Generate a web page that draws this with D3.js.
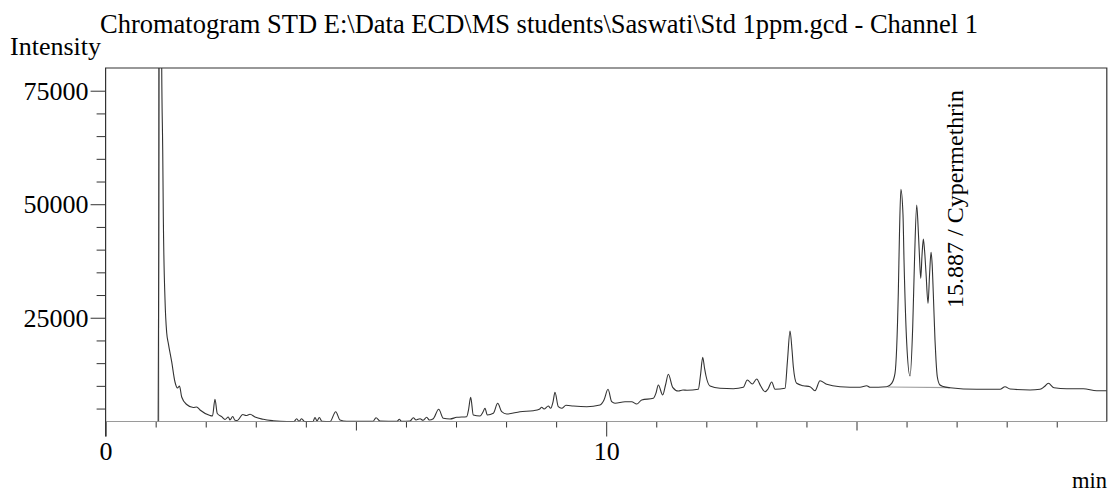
<!DOCTYPE html>
<html>
<head>
<meta charset="utf-8">
<script src="https://cdn.jsdelivr.net/npm/d3@7"></script>
<style>
  html, body { margin: 0; padding: 0; background: #fff; }
  svg { display: block; }
  text { font-family: "Liberation Serif", "Times New Roman", serif; fill: #000; }
</style>
</head>
<body>
<svg id="chart" width="1110" height="492"></svg>
<script>
// Detector trace: retention time (min) and intensity
const traceTime = [
  1.050, 1.062, 1.080, 1.105, 1.121, 1.141, 1.153, 1.187, 1.221, 1.253,
  1.320, 1.386, 1.436, 1.476, 1.520, 1.620, 1.752, 1.820, 1.886, 2.086,
  2.135, 2.185, 2.231, 2.319, 2.385, 2.451, 2.485, 2.539, 2.585, 2.631,
  2.739, 2.805, 2.885, 2.984, 3.150, 3.350, 3.618, 3.764, 3.817, 3.863,
  3.917, 3.973, 4.143, 4.183, 4.223, 4.269, 4.323, 4.483, 4.597, 4.682,
  4.816, 5.342, 5.402, 5.481, 5.821, 5.867, 5.911, 6.081, 6.147, 6.201,
  6.281, 6.340, 6.414, 6.466, 6.546, 6.654, 6.746, 6.880, 7.014, 7.213,
  7.249, 7.293, 7.345, 7.479, 7.539, 7.579, 7.625, 7.745, 7.833, 7.912,
  8.012, 8.278, 8.544, 8.664, 8.712, 8.758, 8.843, 8.891, 8.937, 8.977,
  9.043, 9.111, 9.197, 9.343, 9.611, 9.876, 9.956, 10.036, 10.110, 10.176,
  10.376, 10.509, 10.609, 10.709, 10.941, 10.995, 11.041, 11.129, 11.185, 11.241,
  11.328, 11.440, 11.534, 11.614, 11.840, 11.884, 11.928, 11.964, 11.994, 12.074,
  12.273, 12.539, 12.739, 12.819, 12.919, 13.006, 13.086, 13.172, 13.232, 13.306,
  13.372, 13.572, 13.622, 13.672, 13.712, 13.738, 13.805, 13.937, 14.071, 14.171,
  14.271, 14.405, 14.670, 15.070, 15.204, 15.270, 15.603, 15.703, 15.769, 15.835,
  15.860, 15.887, 15.929, 15.949, 16.003, 16.069, 16.123, 16.159, 16.203, 16.229,
  16.255, 16.283, 16.309, 16.335, 16.359, 16.389, 16.429, 16.459, 16.489, 16.512,
  16.534, 16.568, 16.588, 16.614, 16.668, 16.734, 16.868, 17.401, 17.867, 17.967,
  18.067, 18.466, 18.666, 18.756, 18.832, 18.946, 19.199, 19.531, 19.799, 20.000
];
const traceIntensity = [
  2150, 40000, 160000, 120000, 80000, 61950, 47250, 28900, 21650, 19370,
  15320, 10850, 9530, 9970, 7540, 5890, 5230, 5340, 4680, 3470,
  3360, 7040, 3910, 3210, 2590, 3140, 2480, 3250, 2410, 2370,
  3690, 3470, 3740, 3140, 2630, 2330, 2150, 2150, 2740, 2190,
  2740, 2150, 2150, 3030, 2260, 3030, 2190, 2150, 4310, 2480,
  2190, 2190, 2990, 2260, 2190, 2630, 2190, 2260, 2990, 2480,
  2770, 2410, 3070, 2480, 2770, 4840, 2850, 2700, 3070, 3210,
  4680, 7480, 3580, 3360, 4240, 5060, 3580, 3960, 6160, 4310,
  3800, 4310, 4530, 4840, 5280, 4900, 5560, 5060, 6440, 8580,
  5410, 5060, 5720, 5560, 5410, 5780, 6880, 9240, 6510, 6160,
  6510, 6510, 6000, 6880, 7260, 8430, 10190, 7990, 10190, 12540,
  9680, 8870, 9090, 9020, 9240, 12390, 16290, 13930, 12170, 9970,
  9460, 9370, 9680, 11290, 10410, 11510, 9970, 8710, 9310, 10850,
  9240, 9460, 15690, 22080, 17890, 14220, 10560, 10030, 9810, 8930,
  11130, 10340, 9810, 9680, 10030, 9680, 9810, 10560, 12760, 30450,
  44320, 53280, 47620, 37710, 19440, 12170, 23030, 37710, 49820, 45420,
  39190, 33680, 38810, 42340, 39910, 34780, 28180, 34410, 39410, 36610,
  30380, 20100, 15690, 12010, 10190, 9860, 9590, 9240, 9240, 9810,
  9310, 9090, 9240, 9860, 10560, 9590, 9370, 9370, 8930, 8930
];

// Solvent-front marker and integration baseline of the labelled peak group
const markerTime = [1.06];
const baselineTime = [15.62, 16.87];
const baselineIntensity = [9750, 9590];

// Peak annotation
const peakLabelTime = 15.887;
const peakLabelName = "Cypermethrin";

// Axis ticks
const yMajorTicks = [25000, 50000, 75000];
const yMinorTicks = [5000, 10000, 15000, 20000, 30000, 35000, 40000, 45000, 55000, 60000, 65000, 70000];
const xTicks = d3.range(0, 20);
const xLabelTicks = [0, 10];
const xMidTicks = [5, 15];

const titleText = "Chromatogram STD E:\\Data ECD\\MS students\\Saswati\\Std 1ppm.gcd - Channel 1";

const svg = d3.select("#chart");
const plot = { left: 105.6, right: 1106.8, top: 68, bottom: 421.5 };

const x = d3.scaleLinear().domain([0, 20]).range([plot.left, plot.right]);
const y = d3.scaleLinear().domain([2150, 80000]).range([plot.bottom, plot.top]);

svg.append("defs").append("clipPath").attr("id", "plotClip")
  .append("rect")
  .attr("x", plot.left).attr("y", plot.top)
  .attr("width", plot.right - plot.left).attr("height", plot.bottom - plot.top);

// Title and axis captions
svg.append("text").attr("x", 100).attr("y", 33)
  .style("font-size", "26.5px").text(titleText);
svg.append("text").attr("x", 10).attr("y", 55)
  .style("font-size", "26px").text("Intensity");
svg.append("text").attr("x", 1107).attr("y", 488).attr("text-anchor", "end")
  .style("font-size", "22.5px").text("min");

// Y axis: minor then major ticks
const yMinor = svg.append("g").attr("transform", `translate(${plot.left},0)`)
  .call(d3.axisLeft(y).tickValues(yMinorTicks).tickSize(9).tickFormat(""));
const yMajor = svg.append("g").attr("transform", `translate(${plot.left},0)`)
  .call(d3.axisLeft(y).tickValues(yMajorTicks).tickSize(15).tickPadding(2).tickFormat(d3.format("d")));
[yMinor, yMajor].forEach(g => {
  g.select(".domain").remove();
  g.selectAll("line").attr("stroke", "#333");
});
yMajor.selectAll("text").style("font-size", "26px")
  .style("font-family", "'Liberation Serif', 'Times New Roman', serif");

// X axis: minute ticks, longer ticks at 5 and 15, labelled ticks at 0 and 10
const xMinor = svg.append("g").attr("transform", `translate(0,${plot.bottom})`)
  .call(d3.axisBottom(x).tickValues(xTicks.filter(t => !xLabelTicks.includes(t) && !xMidTicks.includes(t)))
    .tickSize(6).tickFormat(""));
const xMid = svg.append("g").attr("transform", `translate(0,${plot.bottom})`)
  .call(d3.axisBottom(x).tickValues(xMidTicks).tickSize(9).tickFormat(""));
const xMajor = svg.append("g").attr("transform", `translate(0,${plot.bottom})`)
  .call(d3.axisBottom(x).tickValues(xLabelTicks).tickSize(15).tickPadding(5).tickFormat(d3.format("d")));
[xMinor, xMid, xMajor].forEach(g => {
  g.select(".domain").remove();
  g.selectAll("line").attr("stroke", "#333");
});
xMajor.selectAll("text").style("font-size", "26px")
  .style("font-family", "'Liberation Serif', 'Times New Roman', serif");

// Baseline (time axis) in grey
svg.append("line")
  .attr("x1", plot.left).attr("x2", plot.right)
  .attr("y1", y(2150)).attr("y2", y(2150))
  .attr("stroke", "#9a9a9a").attr("stroke-width", 1.2);

// Solvent front marker
svg.append("g").selectAll("line").data(markerTime).join("line")
  .attr("x1", d => x(d)).attr("x2", d => x(d))
  .attr("y1", plot.top).attr("y2", plot.bottom)
  .attr("stroke", "#a0a0a0").attr("stroke-width", 1.2);

// Integration baseline under the labelled peaks
const baseData = baselineTime.map((t, i) => [t, baselineIntensity[i]]);
svg.append("path").datum(baseData)
  .attr("fill", "none").attr("stroke", "#a0a0a0").attr("stroke-width", 1.2)
  .attr("d", d3.line().x(d => x(d[0])).y(d => y(d[1])));

// Chromatogram trace
const trace = traceTime.map((t, i) => [t, traceIntensity[i]]);
svg.append("path").datum(trace)
  .attr("clip-path", "url(#plotClip)")
  .attr("fill", "none").attr("stroke", "#333").attr("stroke-width", 1.1)
  .attr("stroke-linejoin", "round")
  .attr("d", d3.line().curve(d3.curveMonotoneX).x(d => x(d[0])).y(d => y(d[1])));

// Frame
svg.append("path")
  .attr("d", `M${plot.left},${plot.bottom + 15}V${plot.top}H${plot.right}V${plot.bottom}`)
  .attr("fill", "none").attr("stroke", "#333").attr("stroke-width", 1.2);

// Peak label, rotated
const lx = x(peakLabelTime) + 62, ly = 308;
svg.append("text")
  .attr("transform", `translate(${lx},${ly}) rotate(-90)`)
  .style("font-size", "24px")
  .text(`${peakLabelTime.toFixed(3)} / ${peakLabelName}`);
</script>
</body>
</html>
